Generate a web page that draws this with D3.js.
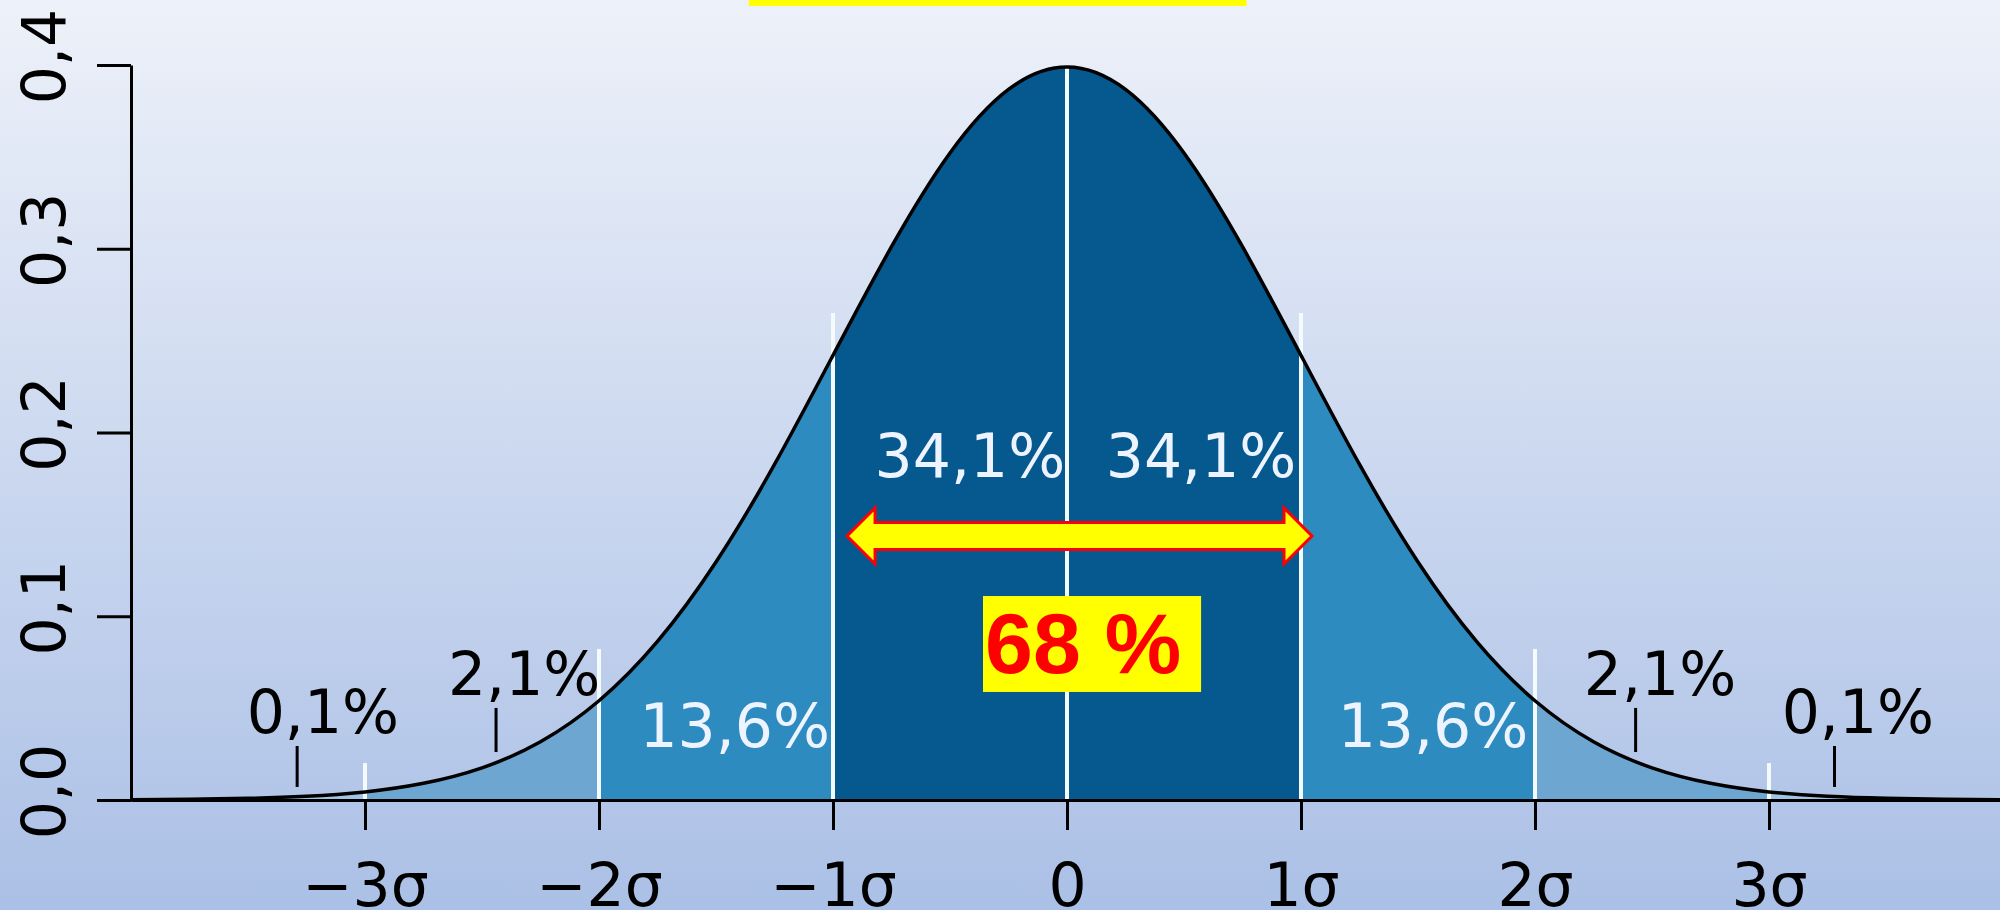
<!DOCTYPE html>
<html>
<head>
<meta charset="utf-8">
<script src="https://cdn.jsdelivr.net/npm/d3@7"></script>
<style>
  html, body { margin: 0; padding: 0; background: #ffffff; }
  svg { display: block; }
</style>
</head>
<body>
<svg id="chart" width="2000" height="910"></svg>
<script>
// ---------------- DATA ----------------
// sigma positions of the sampled density curve
const sigmaPoints = [-4, -3.75, -3.5, -3.25, -3, -2.75, -2.5, -2.25, -2, -1.75, -1.5, -1.25, -1, -0.75, -0.5, -0.25,
  0, 0.25, 0.5, 0.75, 1, 1.25, 1.5, 1.75, 2, 2.25, 2.5, 2.75, 3, 3.25, 3.5, 3.75, 4];
// density at each sigma position
const densities = [0.0001, 0.0004, 0.0009, 0.0020, 0.0044, 0.0091, 0.0175, 0.0317, 0.0540, 0.0863, 0.1295, 0.1826,
  0.2420, 0.3011, 0.3521, 0.3867, 0.3989, 0.3867, 0.3521, 0.3011, 0.2420, 0.1826, 0.1295, 0.0863, 0.0540,
  0.0317, 0.0175, 0.0091, 0.0044, 0.0020, 0.0009, 0.0004, 0.0001];

// shaded bands (sigma from / to)
const bandFrom = [-4, -3, -2, -1, 0, 1, 2, 3];
const bandTo   = [-3, -2, -1, 0, 1, 2, 3, 4];

// x axis ticks
const xTickValues = [-3, -2, -1, 0, 1, 2, 3];
const xTickLabels = ["\u22123\u03c3", "\u22122\u03c3", "\u22121\u03c3", "0", "1\u03c3", "2\u03c3", "3\u03c3"];

// y axis ticks
const yTickValues = [0, 0.1, 0.2, 0.3, 0.4];
const yTickLabels = ["0,0", "0,1", "0,2", "0,3", "0,4"];

// percentage labels
const pctLabels = ["0,1%", "2,1%", "13,6%", "34,1%", "34,1%", "13,6%", "2,1%", "0,1%"];

// white separator lines: sigma position and top density
const sepSigma = [-3, -2, -1, 0, 1, 2, 3];
const sepTop   = [0.0201, 0.0822, 0.265, 0.3989, 0.265, 0.0822, 0.0201];

// annotation
const bigLabel = "68 %";

// ---------------- LAYOUT / STYLE ----------------
const W = 2000, H = 910;
const bandColors = ["#a3c3e4", "#6ea6d2", "#2d8bc0", "#05598e", "#05598e", "#2d8bc0", "#6ea6d2", "#a3c3e4"];
const pctColors  = ["#000", "#000", "#eef4ff", "#eef4ff", "#eef4ff", "#eef4ff", "#000", "#000"];
// label anchor (sigma, density at baseline)
const pctPosX = [-3.18, -2.32, -1.42, -0.415, 0.573, 1.564, 2.534, 3.38];
const pctPosY = [0.0365, 0.0571, 0.0288, 0.1758, 0.1758, 0.0288, 0.0571, 0.0365];
// little pointer ticks under the outer labels
const ptrX   = [-3.29, -2.44, 2.43, 3.28];
const ptrY0  = [0.0071, 0.0261, 0.0261, 0.0071];
const ptrY1  = [0.0294, 0.0501, 0.0501, 0.0294];

const svg = d3.select("#chart");

const x = d3.scaleLinear().domain([-4, 4]).range([131, 2003]);
const y = d3.scaleLinear().domain([0, 0.4]).range([800, 65]);

// background gradient
const defs = svg.append("defs");
const grad = defs.append("linearGradient").attr("id", "bg").attr("x1", 0).attr("y1", 0).attr("x2", 0).attr("y2", 1);
grad.append("stop").attr("offset", "0%").attr("stop-color", "#edf1f9");
grad.append("stop").attr("offset", "100%").attr("stop-color", "#abc0e6");
svg.append("rect").attr("width", W).attr("height", H).attr("fill", "url(#bg)");

const pts = sigmaPoints.map((s, i) => ({ s, d: densities[i] }));

const area = d3.area().x(p => x(p.s)).y0(y(0)).y1(p => y(p.d)).curve(d3.curveNatural);
const line = d3.line().x(p => x(p.s)).y(p => y(p.d)).curve(d3.curveNatural);

// bands via clip paths
bandFrom.forEach((a, i) => {
  const id = "clip" + i;
  defs.append("clipPath").attr("id", id)
    .append("rect")
    .attr("x", x(a)).attr("y", 0)
    .attr("width", x(bandTo[i]) - x(a)).attr("height", H);
  svg.append("path").datum(pts)
    .attr("d", area)
    .attr("fill", bandColors[i])
    .attr("clip-path", `url(#${id})`);
});

// white separators
svg.append("g").selectAll("line").data(sepSigma).join("line")
  .attr("x1", d => x(d)).attr("x2", d => x(d))
  .attr("y1", (d, i) => y(sepTop[i])).attr("y2", y(0))
  .attr("stroke", "#f4fbff").attr("stroke-width", 4);

// curve
svg.append("path").datum(pts)
  .attr("d", line)
  .attr("fill", "none").attr("stroke", "#000").attr("stroke-width", 3.5);

// x axis
const xAxis = svg.append("g").attr("transform", `translate(0,${y(0)})`)
  .call(d3.axisBottom(x).tickValues(xTickValues).tickSize(30).tickSizeOuter(0)
    .tickFormat((d, i) => xTickLabels[i]));
xAxis.select(".domain").attr("stroke", "#000").attr("stroke-width", 3);
xAxis.selectAll(".tick line").attr("stroke", "#000").attr("stroke-width", 3);
xAxis.selectAll(".tick text")
  .attr("y", 106).attr("dy", 0)
  .attr("font-family", "'DejaVu Sans', sans-serif").attr("font-size", 60).attr("fill", "#000");

// y axis
const yAxis = svg.append("g").attr("transform", `translate(${x(-4)},0)`)
  .call(d3.axisLeft(y).tickValues(yTickValues).tickSize(34).tickSizeOuter(0)
    .tickFormat((d, i) => yTickLabels[i]));
yAxis.select(".domain").attr("stroke", "#000").attr("stroke-width", 3);
yAxis.selectAll(".tick line").attr("stroke", "#000").attr("stroke-width", 3);
yAxis.selectAll(".tick text")
  .attr("transform", "rotate(-90)")
  .attr("x", 9).attr("y", -66).attr("dy", 0)
  .attr("text-anchor", "middle")
  .attr("font-family", "'DejaVu Sans', sans-serif").attr("font-size", 60).attr("fill", "#000");

// pointer ticks
svg.append("g").selectAll("line").data(ptrX).join("line")
  .attr("x1", d => x(d)).attr("x2", d => x(d))
  .attr("y1", (d, i) => y(ptrY0[i])).attr("y2", (d, i) => y(ptrY1[i]))
  .attr("stroke", "#000").attr("stroke-width", 3);

// percentage labels
svg.append("g").selectAll("text").data(pctLabels).join("text")
  .attr("x", (d, i) => x(pctPosX[i]))
  .attr("y", (d, i) => y(pctPosY[i]))
  .attr("text-anchor", "middle")
  .attr("font-family", "'DejaVu Sans', sans-serif").attr("font-size", 60)
  .attr("fill", (d, i) => pctColors[i])
  .text(d => d);

// double arrow
const ax0 = x(-0.94), ax1 = x(1.047), ay = y(0.1437);
const headL = 28, headH = 28, shaftH = 13.5;
const arrowPts = [
  [ax0, ay], [ax0 + headL, ay - headH], [ax0 + headL, ay - shaftH],
  [ax1 - headL, ay - shaftH], [ax1 - headL, ay - headH], [ax1, ay],
  [ax1 - headL, ay + headH], [ax1 - headL, ay + shaftH],
  [ax0 + headL, ay + shaftH], [ax0 + headL, ay + headH]
];
svg.append("path")
  .attr("d", "M" + arrowPts.map(p => p.join(",")).join("L") + "Z")
  .attr("fill", "#ffff00").attr("stroke", "#ff0000").attr("stroke-width", 3)
  .attr("stroke-linejoin", "miter");

// 68 % box
svg.append("rect")
  .attr("x", x(-0.359)).attr("y", y(0.111))
  .attr("width", x(0.573) - x(-0.359)).attr("height", y(0.0588) - y(0.111))
  .attr("fill", "#ffff00");
svg.append("text")
  .attr("x", x(-0.35)).attr("y", y(0.0691))
  .attr("font-family", "'Liberation Sans', Arial, sans-serif").attr("font-weight", "bold")
  .attr("font-size", 86).attr("fill", "#ff0000")
  .text(bigLabel);

// cut-off yellow box at the top
svg.append("rect")
  .attr("x", x(-1.36)).attr("y", -10)
  .attr("width", x(0.767) - x(-1.36)).attr("height", 16)
  .attr("fill", "#ffff00");
</script>
</body>
</html>
